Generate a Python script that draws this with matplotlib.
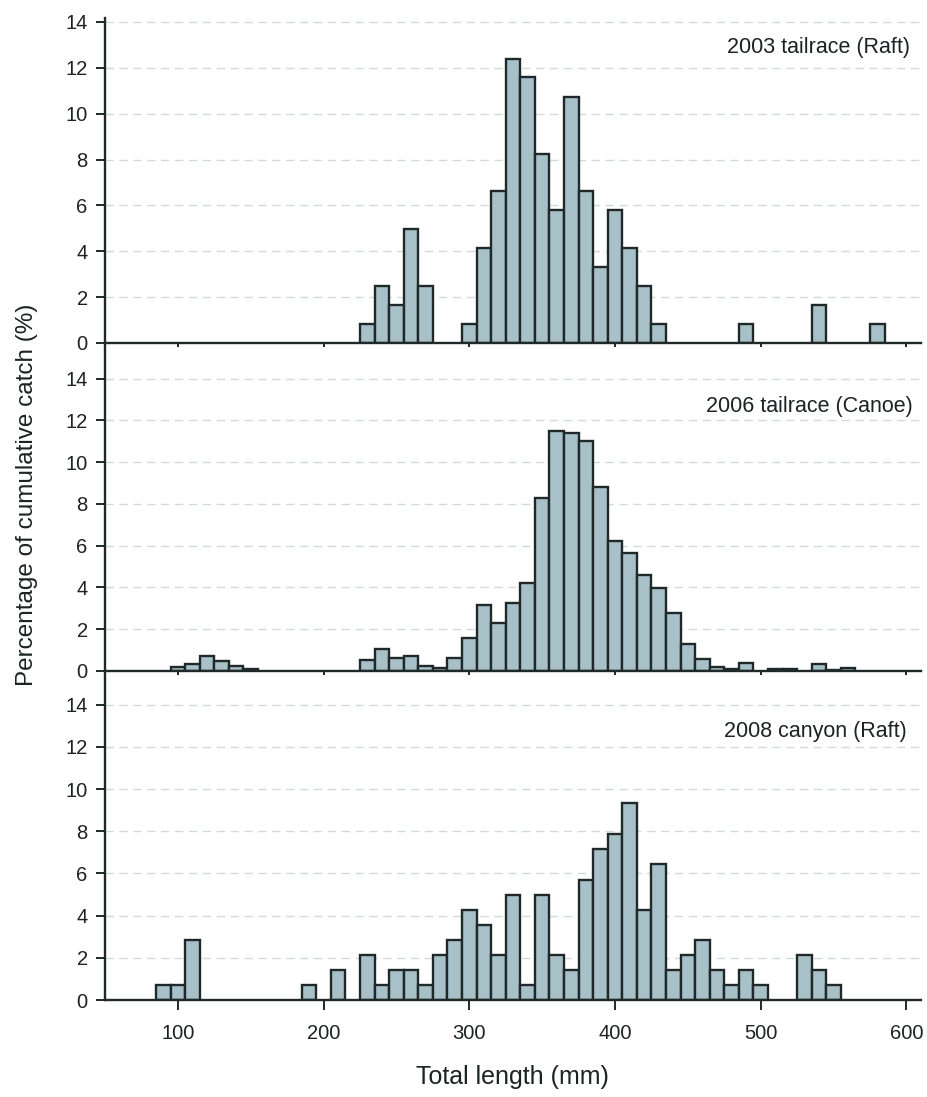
import matplotlib
matplotlib.use("Agg")
import matplotlib.pyplot as plt

plt.rcParams['font.family'] = ['Liberation Sans', 'DejaVu Sans']

# Bin centres (mm) and percentage of catch
len_2003 = [230, 240, 250, 260, 270, 300, 310, 320, 330, 340, 350, 360, 370,
            380, 390, 400, 410, 420, 430, 490, 540, 580]
pct_2003 = [0.83, 2.48, 1.65, 4.96, 2.48, 0.83, 4.13, 6.61, 12.4, 11.6, 8.26,
            5.79, 10.74, 6.61, 3.31, 5.79, 4.13, 2.48, 0.83, 0.83, 1.65, 0.83]

len_2006 = [100, 110, 120, 130, 140, 150, 230, 240, 250, 260, 270, 280, 290,
            300, 310, 320, 330, 340, 350, 360, 370, 380, 390, 400, 410, 420,
            430, 440, 450, 460, 470, 480, 490, 510, 520, 540, 550, 560]
pct_2006 = [0.2, 0.34, 0.72, 0.5, 0.25, 0.08, 0.53, 1.05, 0.61, 0.72, 0.24,
            0.13, 0.64, 1.57, 3.16, 2.28, 3.24, 4.2, 8.28, 11.5, 11.4, 11.0,
            8.8, 6.2, 5.64, 4.6, 3.96, 2.77, 1.28, 0.58, 0.19, 0.1, 0.37,
            0.1, 0.1, 0.34, 0.05, 0.12]

len_2008 = [90, 100, 110, 190, 210, 230, 240, 250, 260, 270, 280, 290, 300,
            310, 320, 330, 340, 350, 360, 370, 380, 390, 400, 410, 420, 430,
            440, 450, 460, 470, 480, 490, 500, 530, 540, 550]
pct_2008 = [0.71, 0.71, 2.86, 0.71, 1.43, 2.14, 0.71, 1.43, 1.43, 0.71, 2.14,
            2.86, 4.29, 3.57, 2.14, 5.0, 0.71, 5.0, 2.14, 1.43, 5.71, 7.14,
            7.86, 9.36, 4.29, 6.43, 1.43, 2.14, 2.86, 1.43, 0.71, 1.43, 0.71,
            2.14, 1.43, 0.71]

panel_labels = ["2003 tailrace (Raft)", "2006 tailrace (Canoe)", "2008 canyon (Raft)"]
x_ticks = [100, 200, 300, 400, 500, 600]
y_ticks = [0, 2, 4, 6, 8, 10, 12, 14]

panels = [
    (len_2003, pct_2003, 14.17, 18, 343),
    (len_2006, pct_2006, 15.7, 343, 671),
    (len_2008, pct_2008, 15.6, 671, 1000),
]

W, H = 928, 1097
fig = plt.figure(figsize=(W / 100, H / 100), dpi=100)

x_left, x_right = 105, 921
fill = '#a8c0c7'
edge = '#1f2929'
text_col = '#1b2323'
for i, (xs, ys, ytop, ptop, pbot) in enumerate(panels):
    ax = fig.add_axes([x_left / W, 1 - pbot / H, (x_right - x_left) / W, (pbot - ptop) / H])
    ax.set_xlim(50, 610)
    ax.set_ylim(0, ytop)
    ax.set_yticks(y_ticks)
    for g in y_ticks[1:]:
        ax.axhline(g, color='#d2dada', lw=1.0, ls=(0, (6, 4)), zorder=0)
    ax.bar(xs, ys, width=10, color=fill, edgecolor=edge, linewidth=1.7, zorder=2)
    for s in ['top', 'right']:
        ax.spines[s].set_visible(False)
    for s in ['left', 'bottom']:
        ax.spines[s].set_color(edge)
        ax.spines[s].set_linewidth(1.7)
    ax.set_xticks(x_ticks)
    ax.tick_params(axis='y', direction='out', length=6.5, width=1.4, colors=edge,
                   labelsize=14.5, pad=6, labelcolor=text_col)
    ax.tick_params(axis='x', direction='out', length=7 if i == 2 else 3, width=1.4,
                   colors=edge, labelsize=14.5, pad=10, labelcolor=text_col)
    if i < 2:
        ax.tick_params(axis='x', labelbottom=False)
    ax.set_facecolor('none')

# panel labels (pixel positions)
label_pos = [(910, 48), (913, 407), (907, 732)]
for label, (px, py) in zip(panel_labels, label_pos):
    fig.text(px / W, 1 - py / H, label, ha='right', va='center', fontsize=15.5,
             color=text_col)

fig.text(27 / W, 1 - 495 / H, 'Percentage of cumulative catch (%)', rotation=90,
         ha='center', va='center', fontsize=17.5, color=text_col)
fig.text(512 / W, 1 - 1077 / H, 'Total length (mm)', ha='center', va='center',
         fontsize=18, color=text_col)

fig.savefig('out.png', dpi=100, facecolor='white')
